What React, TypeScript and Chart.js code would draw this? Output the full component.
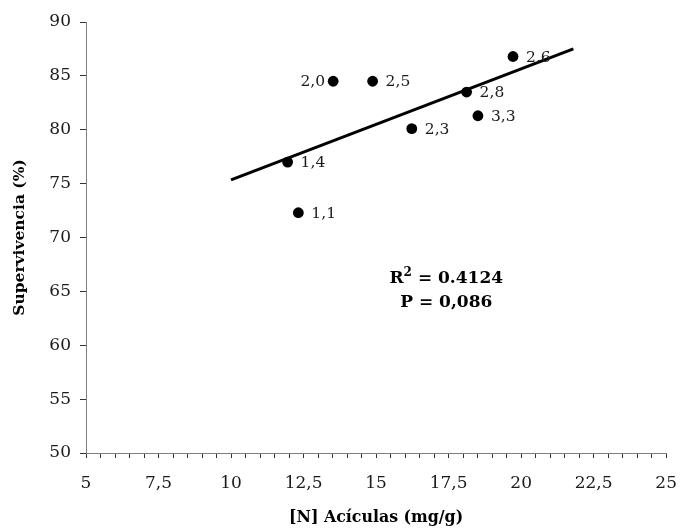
import React, { useEffect, useRef } from "react";
import { Chart, registerables } from "chart.js";

Chart.register(...registerables);

// ---- data ----
const nitrogen = [13.52, 14.88, 19.72, 18.12, 18.51, 16.23, 11.95, 12.32];
const survival = [84.5, 84.5, 86.8, 83.5, 81.3, 80.1, 77.0, 72.3];
const pointLabels = ["2,0", "2,5", "2,6", "2,8", "3,3", "2,3", "1,4", "1,1"];
const leftSideLabels = ["2,0"];

const trendX = [10, 21.8];
const trendY = [75.35, 87.5];

const xMin = 5;
const xMax = 25;
const xMajorStep = 2.5;
const xMinorStep = 0.5;
const yMin = 50;
const yMax = 90;
const yStep = 5;

const r2Text = "0.4124";
const pText = "0,086";
const statsAnchorX = 17.42;
const statsAnchorY = [66.2, 64.0];

const xTitle = "[N] Acículas (mg/g)";
const yTitle = "Supervivencia (%)";

const SERIF = '"DejaVu Serif", "Liberation Serif", serif';

const fmt = (v: number) => String(v).replace(".", ",");

const labelsPlugin = {
  id: "customLabels",
  afterDatasetsDraw(chart: any) {
    const ctx = chart.ctx as CanvasRenderingContext2D;
    const meta = chart.getDatasetMeta(1);
    ctx.save();
    ctx.fillStyle = "#1a1a1a";
    ctx.font = `15.5px ${SERIF}`;
    ctx.textBaseline = "middle";
    meta.data.forEach((pt: any, i: number) => {
      const lab = pointLabels[i];
      if (leftSideLabels.includes(lab)) {
        ctx.textAlign = "right";
        ctx.fillText(lab, pt.x - 8, pt.y + 1);
      } else {
        ctx.textAlign = "left";
        ctx.fillText(lab, pt.x + 13, pt.y + 1);
      }
    });

    const xs = chart.scales.x;
    const ys = chart.scales.y;
    const cx = xs.getPixelForValue(statsAnchorX);
    const y1 = ys.getPixelForValue(statsAnchorY[0]);
    const y2 = ys.getPixelForValue(statsAnchorY[1]);
    const big = `bold 17px ${SERIF}`;
    const small = `bold 12px ${SERIF}`;
    ctx.fillStyle = "#000";
    ctx.textAlign = "left";
    ctx.textBaseline = "middle";
    ctx.font = big;
    const wR = ctx.measureText("R").width;
    const rest = " = " + r2Text;
    const wRest = ctx.measureText(rest).width;
    ctx.font = small;
    const w2 = ctx.measureText("2").width;
    const total = wR + w2 + wRest;
    const x0 = cx - total / 2;
    ctx.font = big;
    ctx.fillText("R", x0, y1);
    ctx.font = small;
    ctx.fillText("2", x0 + wR, y1 - 6);
    ctx.font = big;
    ctx.fillText(rest, x0 + wR + w2, y1);

    ctx.textAlign = "center";
    ctx.fillText("P = " + pText, cx, y2);
    ctx.restore();
  },
};

export default function App() {
  const ref = useRef<HTMLCanvasElement | null>(null);

  useEffect(() => {
    document.body.style.margin = "0";
    const canvas = ref.current;
    if (!canvas) return;
    const chart = new Chart(canvas, {
      type: "scatter",
      data: {
        datasets: [
          {
            data: trendX.map((x, i) => ({ x, y: trendY[i] })),
            showLine: true,
            borderColor: "#000",
            borderWidth: 3,
            pointRadius: 0,
            fill: false,
          } as any,
          {
            data: nitrogen.map((x, i) => ({ x, y: survival[i] })),
            backgroundColor: "#000",
            borderColor: "#000",
            pointRadius: 5.4,
            pointBorderWidth: 0,
          },
        ],
      },
      options: {
        responsive: false,
        animation: false,
        devicePixelRatio: 1,
        layout: { padding: { left: 0, right: 12, top: 22, bottom: 0 } },
        plugins: {
          legend: { display: false },
          tooltip: { enabled: false },
        },
        scales: {
          x: {
            type: "linear",
            min: xMin,
            max: xMax,
            afterFit: (s: any) => {
              s.height = 79;
            },
            ticks: {
              stepSize: xMinorStep,
              autoSkip: false,
              maxRotation: 0,
              minRotation: 0,
              padding: 15,
              color: "#1a1a1a",
              font: { family: SERIF, size: 17 },
              callback: (v: any) => {
                const n = Number(v);
                const q = n / xMajorStep;
                return Math.abs(q - Math.round(q)) < 1e-6 ? fmt(Math.round(q) * xMajorStep) : "";
              },
            },
            grid: { drawOnChartArea: false, tickLength: 5, color: "#333" },
            border: { color: "#808080", width: 1 },
            title: {
              display: true,
              text: xTitle,
              color: "#000",
              font: { family: SERIF, size: 15.8, weight: "bold" },
              padding: { top: 0, bottom: 5 },
            },
          },
          y: {
            type: "linear",
            min: yMin,
            max: yMax,
            afterFit: (s: any) => {
              s.width = 86;
            },
            ticks: {
              stepSize: yStep,
              padding: 9,
              color: "#1a1a1a",
              font: { family: SERIF, size: 17 },
            },
            grid: { drawOnChartArea: false, tickLength: 6, color: "#333" },
            border: { color: "#808080", width: 1 },
            title: {
              display: true,
              text: yTitle,
              color: "#000",
              font: { family: SERIF, size: 15.5, weight: "bold" },
              padding: { top: 11, bottom: 0 },
            },
          },
        },
      },
      plugins: [labelsPlugin],
    });
    return () => chart.destroy();
  }, []);

  return (
    <div style={{ width: 692, height: 532, background: "#fff" }}>
      <canvas ref={ref} width={692} height={532} style={{ display: "block" }} />
    </div>
  );
}
